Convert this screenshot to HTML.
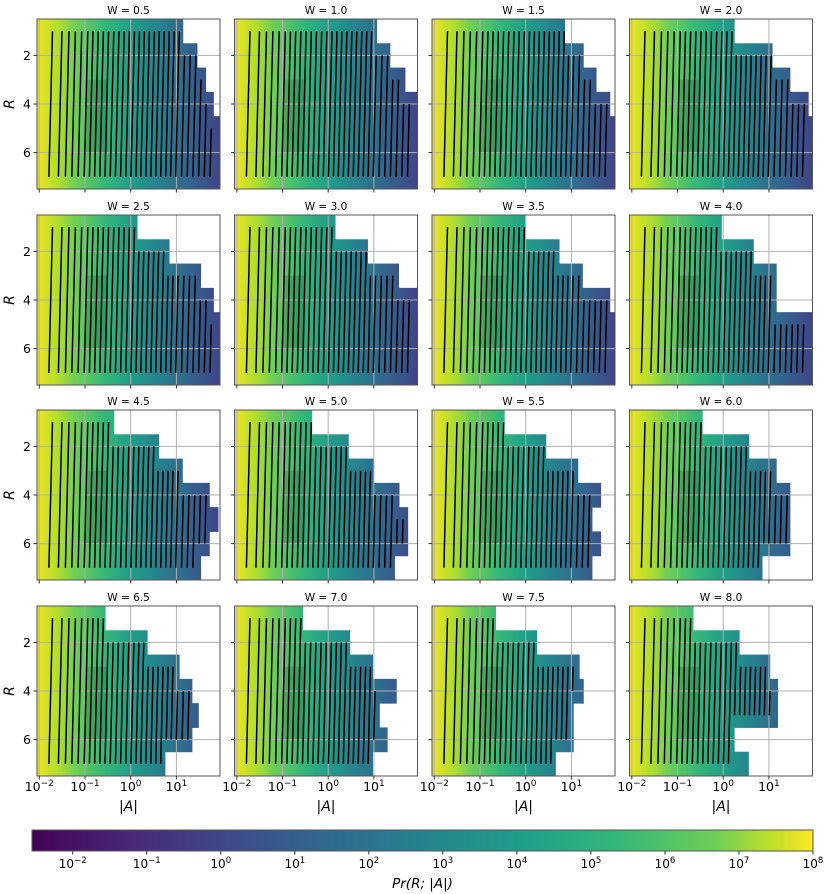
<!DOCTYPE html>
<html><head><meta charset="utf-8">
<style>
html,body{margin:0;padding:0;background:#fff;}
svg{display:block;font-family:"DejaVu Sans","Liberation Sans",sans-serif;}
</style></head>
<body>
<svg id="fig" width="831" height="894" viewBox="0 0 831 894" xmlns="http://www.w3.org/2000/svg">
<defs id="defs"></defs>
</svg>
<script>
// ---- data ----
const panelTitles = ["W = 0.5","W = 1.0","W = 1.5","W = 2.0","W = 2.5","W = 3.0","W = 3.5","W = 4.0","W = 4.5","W = 5.0","W = 5.5","W = 6.0","W = 6.5","W = 7.0","W = 7.5","W = 8.0"];
// max log10|A| reached by each R row (R = 1..7) per panel
const rowExtents = [
 [1.15,1.46,1.65,1.82,1.95,1.95,1.95],
 [1.07,1.36,1.69,1.95,1.95,1.95,1.95],
 [0.86,1.27,1.55,1.85,1.95,1.95,1.95],
 [0.25,1.08,1.47,1.87,1.95,1.95,1.95],
 [0.15,0.85,1.54,1.82,1.95,1.95,1.95],
 [0.16,0.87,1.55,1.95,1.95,1.95,1.95],
 [-0.01,0.74,1.25,1.85,1.95,1.95,1.95],
 [-0.03,0.67,1.17,1.17,1.95,1.95,1.95],
 [-0.36,0.62,1.14,1.73,1.92,1.73,1.54],
 [-0.35,0.45,1.0,1.56,1.75,1.75,1.46],
 [-0.46,0.45,1.15,1.65,1.46,1.65,1.46],
 [-0.45,0.57,1.17,1.47,1.47,1.47,0.86],
 [-0.55,0.37,1.07,1.35,1.49,1.35,0.76],
 [-0.55,0.48,0.98,1.5,1.13,1.3,0.98],
 [-0.65,0.25,1.18,1.27,1.05,1.05,0.66],
 [-0.65,0.36,1.03,1.2,1.2,0.25,0.56]
];
// log10 Pr field along log10|A|
const fieldLogA = [-2,-1.5,-1,-0.5,0,0.5,1,1.5,2];
const fieldLogPr = [7.8,7.2,6.3,5.2,4.1,2.95,1.8,0.8,-0.2];
const contourLevels = [7.5,7.25,7.0,6.75,6.5,6.25,6.0,5.75,5.5,5.25,5.0,4.75,4.5,4.25,4.0,3.75,3.5,3.25,3.0,2.75,2.5,2.25,2.0,1.75,1.5,1.25,1.0,0.75,0.5,0.25];
const xTicks = [-2,-1,0,1];
const yTicks = [2,4,6];
const cbarTicks = [-2,-1,0,1,2,3,4,5,6,7,8];
const cbarMin = -2.55, cbarMax = 8;

// ---- helpers ----
const NS = "http://www.w3.org/2000/svg";
const svg = document.getElementById('fig');
const defs = document.getElementById('defs');
function mk(tag, attrs, parent){const e=document.createElementNS(NS,tag);for(const k in attrs)e.setAttribute(k,attrs[k]);(parent||svg).appendChild(e);return e;}
const vir=[[0,[68,1,84]],[0.125,[72,40,120]],[0.25,[62,73,137]],[0.375,[49,104,142]],[0.5,[38,130,142]],[0.625,[31,158,137]],[0.75,[53,183,121]],[0.875,[110,206,88]],[0.9375,[181,222,43]],[1,[253,231,37]]];
function viridis(t){t=Math.max(0,Math.min(1,t));for(let i=1;i<vir.length;i++){if(t<=vir[i][0]){const a=vir[i-1],b=vir[i];const f=(t-a[0])/(b[0]-a[0]);const c=a[1].map((v,j)=>Math.round(v+(b[1][j]-v)*f));return `rgb(${c[0]},${c[1]},${c[2]})`;}}return 'rgb(253,231,37)';}
function colorOf(v){return viridis((v-cbarMin)/(cbarMax-cbarMin));}
function field(x){for(let i=1;i<fieldLogA.length;i++){if(x<=fieldLogA[i]){const f=(x-fieldLogA[i-1])/(fieldLogA[i]-fieldLogA[i-1]);return fieldLogPr[i-1]+f*(fieldLogPr[i]-fieldLogPr[i-1]);}}return fieldLogPr[fieldLogPr.length-1];}
function invField(v){for(let i=1;i<fieldLogPr.length;i++){if(v>=fieldLogPr[i]){const f=(fieldLogPr[i-1]-v)/(fieldLogPr[i-1]-fieldLogPr[i]);return fieldLogA[i-1]+f*(fieldLogA[i]-fieldLogA[i-1]);}}return null;}

const colLeft=[37,234.5,432,629.5], rowTop=[19,215,410,606], PW=183, PH=170;
const pxPerDec=45.7, x0off=2.3, pxPerR=PH/7;

const cg=mk('linearGradient',{id:'cb',x1:'0',x2:'1',y1:'0',y2:'0'},defs);
for(let i=0;i<=40;i++){mk('stop',{offset:(i/40).toFixed(3),'stop-color':viridis(i/40)},cg);}

panelTitles.forEach((title,p)=>{
  const r=Math.floor(p/4), c=p%4, L=colLeft[c], T=rowTop[r];
  const xs=la=>L+x0off+(la+2)*pxPerDec;
  const ys=R=>T+(R-0.5)*pxPerR;
  const g=mk('g',{});
  
  
  const clipId='clip'+p;
  const cp=mk('clipPath',{id:clipId},defs);
  mk('rect',{x:L,y:T,width:PW,height:PH},cp);
  const pg=mk('linearGradient',{id:'hm'+p,gradientUnits:'userSpaceOnUse',x1:L,x2:L+PW,y1:0,y2:0},defs);
  for(let i=0;i<=40;i++){const la=(-2-x0off/pxPerDec)+i*(PW/pxPerDec/40);mk('stop',{offset:(i/40).toFixed(3),'stop-color':colorOf(field(la))},pg);}
  const hm=mk('g',{'clip-path':`url(#${clipId})`},g);
  
  
  rowExtents[p].forEach((ext,i)=>{
    const R=i+1;
    const rc=mk('rect',{x:L,y:ys(R-0.5),width:Math.max(0,xs(ext)-L),height:pxPerR+0.5,fill:`url(#hm${p})`},hm);
    
    
  });
  const sh=mk('rect',{x:xs(-1),y:ys(3),width:xs(-0.5)-xs(-1),height:ys(6)-ys(3),fill:'#000','fill-opacity':0.14},hm);
  
  
  // grid
  xTicks.forEach(t=>{const l=mk('line',{x1:xs(t),x2:xs(t),y1:T,y2:T+PH,stroke:'#b0b0b0','stroke-width':1},g);});
  yTicks.forEach(t=>{const l=mk('line',{x1:L,x2:L+PW,y1:ys(t),y2:ys(t),stroke:'#b0b0b0','stroke-width':1},g);});
  // contours
  const cgp=mk('g',{stroke:'#000','stroke-width':1.5,fill:'none','stroke-linejoin':'round','clip-path':`url(#${clipId})`},g);
  
  
  contourLevels.forEach(lv=>{
    const la=invField(lv); if(la===null) return;
    const x=xs(la);
    let d='', open=false;
    for(let i=0;i<7;i++){
      const inside=rowExtents[p][i]>la+0.05;
      const y=ys(i+1);
      const xx=x-(i-3)*0.6;
      if(inside){ d+=(open?'L':'M')+xx.toFixed(1)+','+y.toFixed(1); open=true; }
      else open=false;
    }
    if(d.indexOf('L')>=0){const pth=mk('path',{d:d},cgp);}
  });
  // frame
  const fr=mk('rect',{x:L,y:T,width:PW,height:PH,fill:'none',stroke:'#555','stroke-width':1},g);
  
  
  xTicks.forEach(t=>mk('line',{x1:xs(t),x2:xs(t),y1:T+PH,y2:T+PH+3.5,stroke:'#333'},g));
  yTicks.forEach(t=>mk('line',{x1:L-3.5,x2:L,y1:ys(t),y2:ys(t),stroke:'#333'},g));
  const tt=mk('text',{x:L+PW/2,y:T-5,'text-anchor':'middle','font-size':10.5,fill:'#000'},g);
  tt.textContent=title;
  
  
  if(c===0){
    yTicks.forEach(t=>{const lb=mk('text',{x:L-6,y:ys(t)+4.5,'text-anchor':'end','font-size':12.5},g);lb.textContent=t;});
    const yl=mk('text',{x:14,y:T+PH/2,'text-anchor':'middle','font-size':14,'font-style':'italic',transform:`rotate(-90 14 ${T+PH/2})`},g);
    yl.textContent='R';
    
    
  }
  if(r===3){
    xTicks.forEach(t=>{const lb=mk('text',{x:xs(t),y:T+PH+15,'text-anchor':'middle','font-size':12.5},g);
      lb.innerHTML=`10<tspan dy="-5" font-size="9">${t<0?'−'+(-t):t}</tspan>`;
      });
    const xl=mk('text',{x:L+PW/2,y:T+PH+35,'text-anchor':'middle','font-size':14,'font-style':'italic'},g);
    xl.textContent='|A|';
    
    
  }
});

// colorbar
const CBL=32, CBR=813, CBT=830, CBB=851;
const cbg=mk('g',{});


mk('rect',{x:CBL,y:CBT,width:CBR-CBL,height:CBB-CBT,fill:'url(#cb)',stroke:'#555','stroke-width':1},cbg);
const cbx=v=>CBL+(v-cbarMin)/(cbarMax-cbarMin)*(CBR-CBL);
cbarTicks.forEach(t=>{
  mk('line',{x1:cbx(t),x2:cbx(t),y1:CBB,y2:CBB+3.5,stroke:'#333'},cbg);
  const lb=mk('text',{x:cbx(t),y:CBB+17,'text-anchor':'middle','font-size':12},cbg);
  lb.innerHTML=`10<tspan dy="-5" font-size="8.5">${t<0?'−'+(-t):t}</tspan>`;
  
  
});
const cbt=mk('text',{x:(CBL+CBR)/2,y:888,'text-anchor':'middle','font-size':13.5,'font-style':'italic'},cbg);
cbt.textContent='Pr(R; |A|)';


</script>
</body></html>
